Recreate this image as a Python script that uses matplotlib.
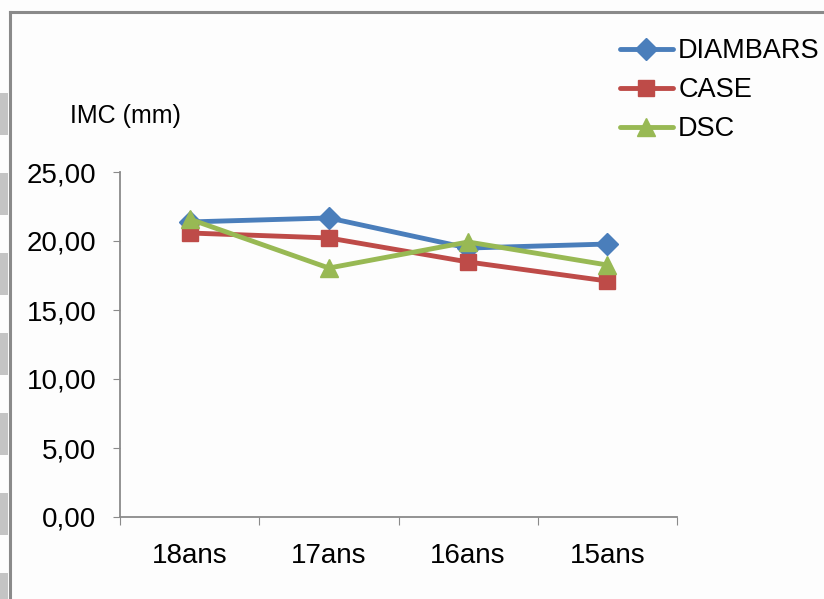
import matplotlib
import matplotlib.pyplot as plt
from matplotlib.lines import Line2D
from matplotlib.patches import Rectangle

matplotlib.use("Agg")

plt.rcParams["font.family"] = ["Liberation Sans", "DejaVu Sans"]

categories = ["18ans", "17ans", "16ans", "15ans"]
diambars = [21.38, 21.67, 19.49, 19.78]
case = [20.58, 20.22, 18.48, 17.10]
dsc = [21.59, 18.04, 19.93, 18.26]
y_ticks = [0, 5, 10, 15, 20, 25]

W, H = 824, 599
fig = plt.figure(figsize=(W / 100, H / 100), dpi=100)
fig.patch.set_facecolor("#fdfdfd")

# scan frame + grey blocks on the left edge
frame = "#8a8a8a"
fig.add_artist(Line2D([10 / W, 10 / W], [0, 1 - 12 / H], color=frame, lw=2.2,
                      transform=fig.transFigure))
fig.add_artist(Line2D([10 / W, 1], [1 - 12 / H, 1 - 12 / H], color=frame, lw=2.2,
                      transform=fig.transFigure))
for top in range(93, 600, 80):
    bottom = min(top + 42, H)
    fig.add_artist(Rectangle((0, 1 - bottom / H), 8 / W, (bottom - top) / H,
                             color="#c4c4c4", transform=fig.transFigure, lw=0))

ax = fig.add_axes([120 / W, 1 - 517 / H, (677 - 120) / W, (517 - 172) / H])
ax.set_facecolor("#fdfdfd")

x = list(range(len(categories)))
series = [
    ("DIAMBARS", diambars, "#4a7ebb", "D", 11.5),
    ("CASE", case, "#be4b48", "s", 12),
    ("DSC", dsc, "#98b954", "^", 12.5),
]
for name, values, color, marker, ms in series:
    ax.plot(x, values, color=color, lw=3.5, marker=marker, markersize=ms,
            label=name, solid_capstyle="round")

ax.set_xlim(-0.5, len(categories) - 0.5)
ax.set_ylim(0, 25)
ax.set_yticks(y_ticks)
ax.set_yticklabels([f"{v:.2f}".replace(".", ",") for v in y_ticks])
ax.set_xticks([i - 0.5 for i in range(len(categories) + 1)])
ax.set_xticklabels([])
ax.set_xticks(x, minor=True)
ax.set_xticklabels(categories, minor=True)

for side in ["top", "right"]:
    ax.spines[side].set_visible(False)
for side in ["left", "bottom"]:
    ax.spines[side].set_color(frame)
    ax.spines[side].set_linewidth(1.3)

ax.tick_params(axis="y", length=5, color=frame, labelsize=20, pad=12)
ax.tick_params(axis="x", which="major", length=6, color=frame, direction="out")
ax.tick_params(axis="x", which="minor", length=0, labelsize=20, pad=19)

fig.text(70 / W, 1 - 116 / H, "IMC (mm)", fontsize=18, va="center", ha="left")

fig.legend(loc="upper left", bbox_to_anchor=(620 / W, 1 - 38 / H), frameon=False,
           fontsize=19.5, handlelength=1.95, handletextpad=0.2, labelspacing=0.48,
           borderaxespad=0, borderpad=0)

fig.savefig("out.png", dpi=100, facecolor=fig.get_facecolor())
